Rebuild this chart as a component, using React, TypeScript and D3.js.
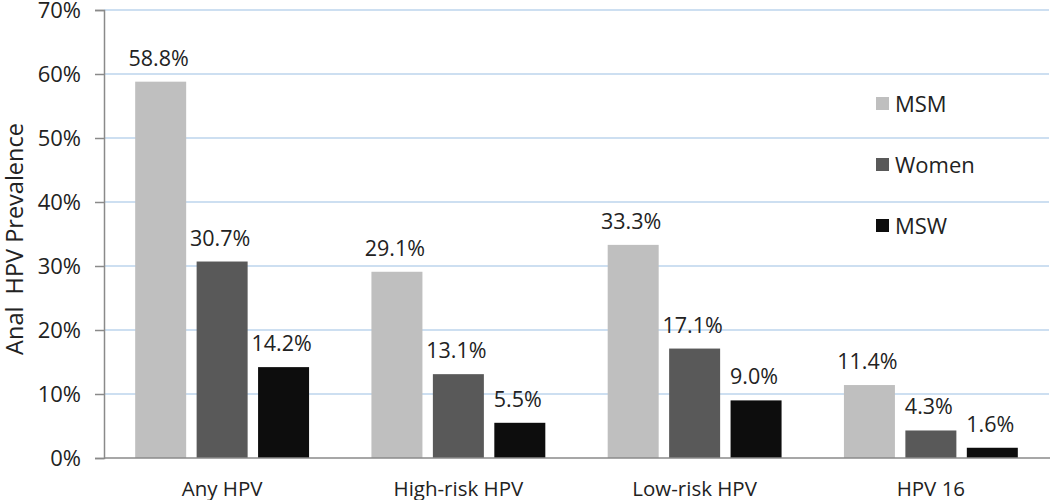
import * as React from 'react';
import * as d3 from 'd3';

const categories = ['Any HPV', 'High-risk HPV', 'Low-risk HPV', 'HPV 16'];
const seriesNames = ['MSM', 'Women', 'MSW'];
const msm = [58.8, 29.1, 33.3, 11.4];
const women = [30.7, 13.1, 17.1, 4.3];
const msw = [14.2, 5.5, 9.0, 1.6];
const yTicks = [0, 10, 20, 30, 40, 50, 60, 70];
const colors = ['#bfbfbf', '#595959', '#0d0d0d'];

const width = 1050;
const height = 500;
const margin = {top: 10, right: 1, bottom: 42, left: 104};
const font = '"Open Sans", sans-serif';

export default function App() {
  const ref = React.useRef<SVGSVGElement>(null);

  React.useEffect(() => {
    const values = [msm, women, msw];
    const svg = d3.select(ref.current);
    svg.selectAll('*').remove();

    const x0 = d3.scaleBand().domain(categories)
      .range([margin.left, width - margin.right])
      .paddingInner(0.264).paddingOuter(0.132);
    const x1 = d3.scaleBand().domain(seriesNames)
      .range([0, x0.bandwidth()]).paddingInner(0.17);
    const y = d3.scaleLinear().domain([0, 70]).range([height - margin.bottom, margin.top]);

    // gridlines
    svg.append('g').selectAll('line').data(yTicks.slice(1)).enter().append('line')
      .attr('x1', margin.left).attr('x2', width - margin.right)
      .attr('y1', d => y(d)).attr('y2', d => y(d))
      .attr('stroke', '#bcd5ec').attr('stroke-width', 1.5);

    // y axis
    const yAxis = svg.append('g')
      .attr('transform', `translate(${margin.left},0)`)
      .call(d3.axisLeft(y).tickValues(yTicks).tickSize(9).tickPadding(14).tickFormat(d => `${d}%`));
    yAxis.select('.domain').attr('stroke', '#8a8a8a').attr('stroke-width', 1.5);
    yAxis.selectAll('.tick line').attr('stroke', '#8a8a8a').attr('stroke-width', 1.5);
    yAxis.selectAll('.tick text').attr('font-family', font).attr('font-size', 22).attr('fill', '#222');

    // bars
    seriesNames.forEach((s, si) => {
      const g = svg.append('g');
      g.selectAll('rect').data(values[si]).enter().append('rect')
        .attr('x', (d, i) => x0(categories[i])! + x1(s)!)
        .attr('y', d => y(d))
        .attr('width', x1.bandwidth())
        .attr('height', d => y(0) - y(d))
        .attr('fill', colors[si]);
      g.selectAll('text').data(values[si]).enter().append('text')
        .attr('x', (d, i) => x0(categories[i])! + x1(s)! + x1.bandwidth() / 2 - 2)
        .attr('y', d => y(d) - 16)
        .attr('text-anchor', 'middle')
        .attr('font-family', font).attr('font-size', 21.5).attr('fill', '#222')
        .text(d => `${d.toFixed(1)}%`);
    });

    // x axis
    svg.append('line')
      .attr('x1', margin.left).attr('x2', width)
      .attr('y1', y(0)).attr('y2', y(0))
      .attr('stroke', '#8a8a8a').attr('stroke-width', 1.5);
    svg.append('g').selectAll('text').data(categories).enter().append('text')
      .attr('x', d => x0(d)! + x0.bandwidth() / 2)
      .attr('y', y(0) + 38)
      .attr('text-anchor', 'middle')
      .attr('font-family', font).attr('font-size', 20.5).attr('fill', '#222')
      .text(d => d);

    // y title
    svg.append('text')
      .attr('transform', `translate(23,${(y(0) + y(70)) / 2 + 5}) rotate(-90)`)
      .attr('text-anchor', 'middle')
      .attr('font-family', font).attr('font-size', 23.5).attr('fill', '#222')
      .attr('xml:space', 'preserve')
      .text('Anal  HPV Prevalence');

    // legend
    const legend = svg.append('g').selectAll('g').data(seriesNames).enter().append('g')
      .attr('transform', (d, i) => `translate(876,${104 + i * 61})`);
    legend.append('rect').attr('x', 0).attr('y', -7).attr('width', 13).attr('height', 13)
      .attr('fill', (d, i) => colors[i]);
    legend.append('text').attr('x', 19).attr('y', 8)
      .attr('font-family', font).attr('font-size', 22).attr('fill', '#222')
      .text(d => d);
  }, []);

  return (
    <div style={{position: 'absolute', left: 0, top: 0}}>
      <svg ref={ref} width={width} height={height} style={{display: 'block', background: '#fff'}}></svg>
    </div>
  );
}
